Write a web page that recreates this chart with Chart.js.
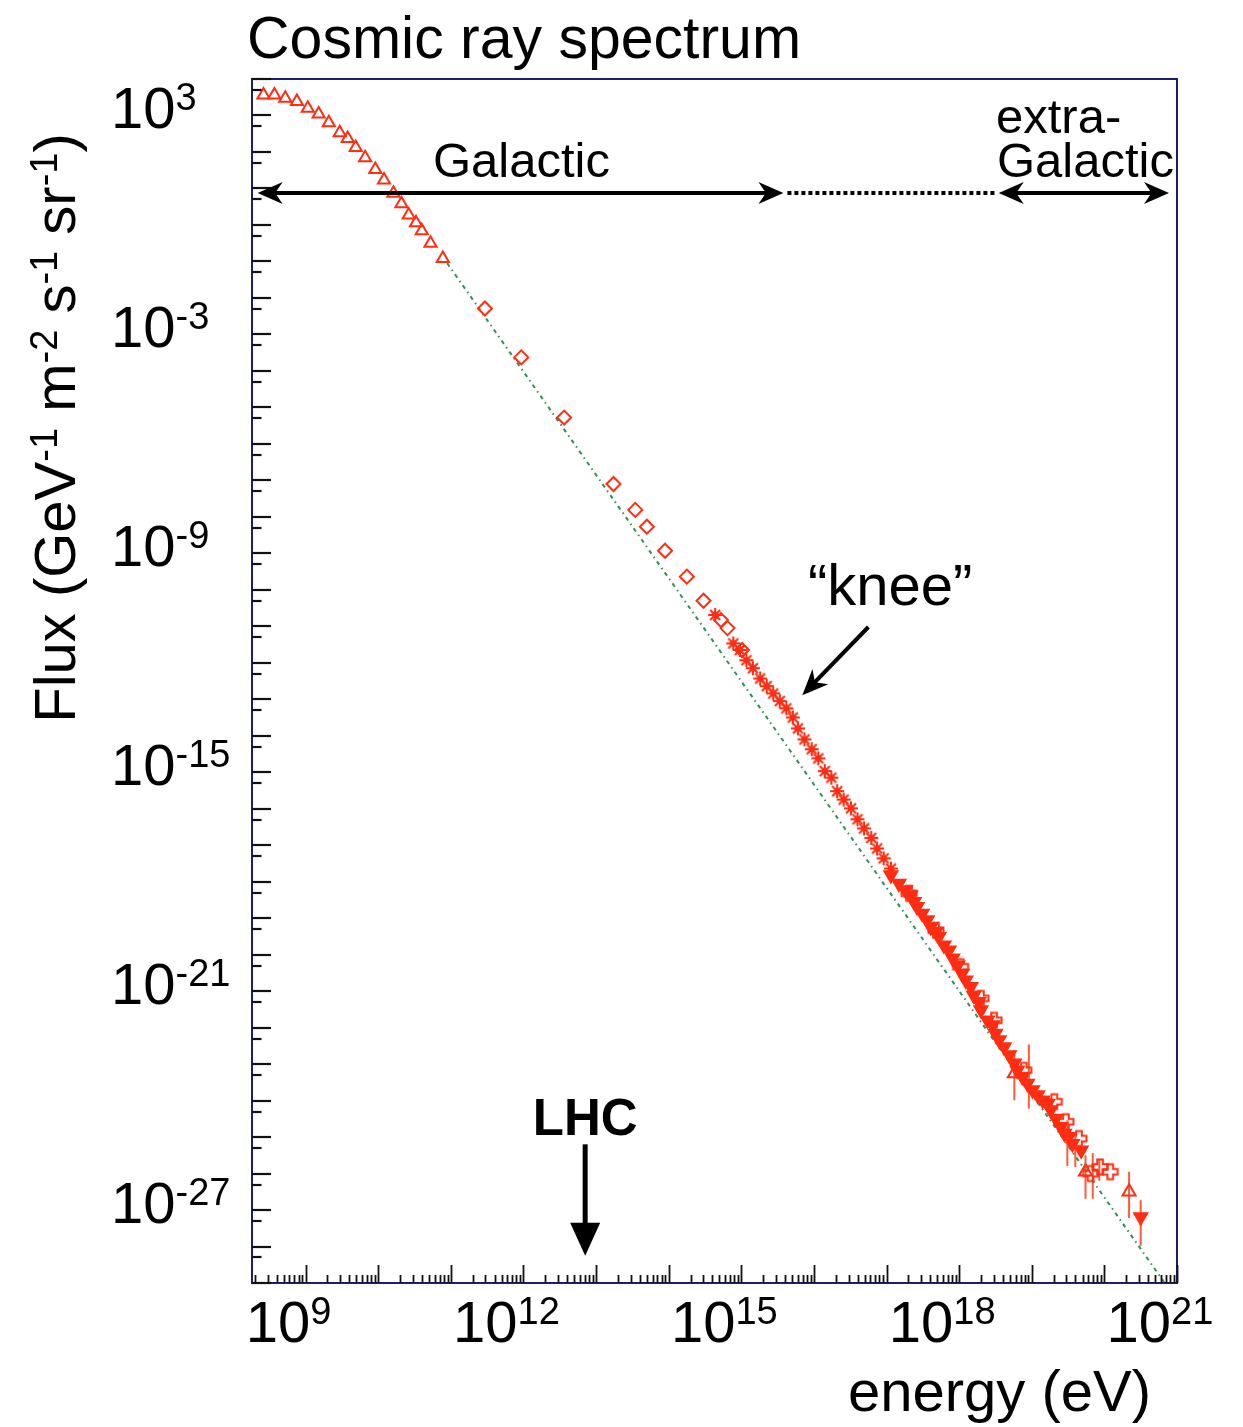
<!DOCTYPE html>
<html>
<head>
<meta charset="utf-8">
<title>Cosmic ray spectrum</title>
<script src="https://cdn.jsdelivr.net/npm/chart.js@4.4.1/dist/chart.umd.min.js"></script>
<style>
  html, body { margin: 0; padding: 0; background: #fff; }
  #wrap { width: 1243px; height: 1427px; position: relative; }
</style>
</head>
<body>
<div id="wrap"><canvas id="spectrum"></canvas></div>
<script>
// every point is [log10(E / eV), log10(flux)]
const directTriangles = [
  [8.42, 3.56], [8.57, 3.56], [8.72, 3.47], [8.88, 3.38], [9.03, 3.2],
  [9.18, 3.04], [9.32, 2.8], [9.47, 2.53], [9.58, 2.37], [9.69, 2.12],
  [9.82, 1.84], [9.96, 1.52], [10.08, 1.23], [10.21, 0.87], [10.32, 0.58],
  [10.42, 0.27], [10.52, 0.06], [10.6, -0.16], [10.72, -0.5], [10.89, -0.92],
];
const balloonDiamonds = [
  [11.47, -2.29], [11.97, -3.63], [12.56, -5.28], [13.24, -7.1], [13.54, -7.81],
  [13.7, -8.27], [13.95, -8.93], [14.25, -9.64], [14.48, -10.3], [14.72, -10.83],
  [14.81, -11.05], [15.01, -11.65],
];
const kneeStars = [
  [14.64, -10.69], [14.89, -11.47], [14.98, -11.65], [15.07, -11.93], [15.16, -12.15],
  [15.26, -12.43], [15.35, -12.64], [15.44, -12.84], [15.53, -13.05], [15.62, -13.25],
  [15.71, -13.5], [15.78, -13.8], [15.87, -14.1], [15.97, -14.37], [16.06, -14.62],
  [16.15, -14.97], [16.24, -15.15], [16.32, -15.52], [16.41, -15.75], [16.51, -15.99],
  [16.6, -16.29], [16.69, -16.54], [16.79, -16.8], [16.87, -17.09], [16.96, -17.36],
  [17.06, -17.64],
];
const airShowerFilled = [
  [17.06, -17.82], [17.17, -18.05], [17.26, -18.23], [17.33, -18.37], [17.38, -18.55],
  [17.42, -18.69], [17.49, -18.87], [17.56, -19.05], [17.61, -19.24], [17.68, -19.37],
  [17.72, -19.51], [17.79, -19.74], [17.86, -19.88], [17.91, -20.1], [17.98, -20.29],
  [18.04, -20.52], [18.09, -20.7], [18.16, -20.88], [18.2, -21.11], [18.27, -21.29],
  [18.3, -21.52], [18.39, -21.8], [18.46, -21.93], [18.5, -22.16], [18.55, -22.34],
  [18.62, -22.53], [18.69, -22.75], [18.76, -22.98], [18.8, -23.17], [18.87, -23.35],
  [18.94, -23.53], [19.01, -23.71], [19.08, -23.85], [19.15, -23.99], [19.22, -24.08],
  [19.26, -24.26], [19.33, -24.49], [19.4, -24.72], [19.45, -24.9], [19.51, -24.99],
  [19.56, -25.18], [19.68, -25.36], [20.5, -27.19],
];
const airShowerCrosses = [
  [17.31, -18.32], [17.68, -19.33], [18.02, -20.33], [18.3, -21.2], [18.48, -21.8],
  [18.89, -23.17], [19.31, -24.03], [19.47, -24.58], [19.65, -25.04], [19.81, -26.0],
  [19.94, -25.82], [20.08, -25.95],
];
const airShowerTriangles = [[18.76, -23.26], [19.74, -25.95], [20.34, -26.5]];
// [log10 E, upper, lower]
const errorBars = [
  [18.76, -22.62, -23.99], [18.96, -22.46, -24.22], [19.49, -24.54, -25.79],
  [19.6, -24.99, -25.82], [19.74, -25.5, -26.69], [19.84, -25.44, -26.69],
  [19.93, -25.6, -26.2], [20.34, -25.95, -27.22], [20.5, -26.73, -27.98],
];
// E^-2.8 guide line
const powerLawGuide = [[10.95, -1.05], [20.83, -29.0]];

const xTickExponents = [9, 12, 15, 18, 21];
const yTickExponents = [3, -3, -9, -15, -21, -27];

const FONT = '"Liberation Sans", Arial, Helvetica, sans-serif';
const RED = '#ff2d12';

const toPoints = (list) => list.map(([e, f]) => ({ x: 10 ** e, y: 10 ** f }));

function markerCanvas(size, draw) {
  const c = document.createElement('canvas');
  c.width = size;
  c.height = size;
  draw(c.getContext('2d'), size / 2);
  return c;
}

// outlined plus
const hollowCross = markerCanvas(20, (g, m) => {
  const w = 2.8, L = 7.5;
  const pts = [[-w, -L], [w, -L], [w, -w], [L, -w], [L, w], [w, w], [w, L], [-w, L], [-w, w], [-L, w], [-L, -w], [-w, -w]];
  g.strokeStyle = RED;
  g.lineWidth = 2;
  g.beginPath();
  pts.forEach(([dx, dy], i) => (i ? g.lineTo(m + dx, m + dy) : g.moveTo(m + dx, m + dy)));
  g.closePath();
  g.stroke();
});

// asterisk with a filled core
const starMark = markerCanvas(18, (g, m) => {
  g.strokeStyle = RED;
  g.fillStyle = RED;
  g.lineWidth = 2;
  for (let i = 0; i < 4; i++) {
    const a = (i * Math.PI) / 4;
    g.beginPath();
    g.moveTo(m - 7 * Math.cos(a), m - 7 * Math.sin(a));
    g.lineTo(m + 7 * Math.cos(a), m + 7 * Math.sin(a));
    g.stroke();
  }
  g.beginPath();
  g.arc(m, m, 3.4, 0, Math.PI * 2);
  g.fill();
});

function arrowHead(ctx, x, y, angle, len, half, notch) {
  ctx.save();
  ctx.translate(x, y);
  ctx.rotate(angle);
  ctx.beginPath();
  ctx.moveTo(0, 0);
  ctx.lineTo(-len, -half);
  ctx.lineTo(-len * notch, 0);
  ctx.lineTo(-len, half);
  ctx.closePath();
  ctx.fill();
  ctx.restore();
}

function powerWidth(ctx, exp) {
  ctx.font = `58px ${FONT}`;
  const baseW = ctx.measureText('10').width;
  ctx.font = `38px ${FONT}`;
  return { baseW, total: baseW + ctx.measureText(String(exp)).width };
}

function drawPower(ctx, left, baseline, exp) {
  const { baseW } = powerWidth(ctx, exp);
  ctx.font = `58px ${FONT}`;
  ctx.fillText('10', left, baseline);
  ctx.font = `38px ${FONT}`;
  ctx.fillText(String(exp), left + baseW, baseline - 18);
}

const errorBarPlugin = {
  id: 'errorBars',
  beforeDatasetsDraw(chart) {
    const { ctx, scales: { x, y } } = chart;
    ctx.save();
    ctx.strokeStyle = '#ff5a3a';
    ctx.lineWidth = 2;
    errorBars.forEach(([e, hi, lo]) => {
      const px = x.getPixelForValue(10 ** e);
      ctx.beginPath();
      ctx.moveTo(px, y.getPixelForValue(10 ** hi));
      ctx.lineTo(px, y.getPixelForValue(10 ** lo));
      ctx.stroke();
    });
    ctx.restore();
  },
};

const framePlugin = {
  id: 'frameAndNotes',
  afterDraw(chart) {
    const { ctx, chartArea: a, scales: { x, y } } = chart;
    ctx.save();

    // plot frame
    ctx.strokeStyle = '#1b1f6e';
    ctx.lineWidth = 2;
    ctx.strokeRect(a.left, a.top, a.right - a.left, a.bottom - a.top);

    // inward ticks: decades long, 2..9 short on x; 5x short on y
    ctx.strokeStyle = '#111';
    ctx.lineWidth = 1.8;
    for (let n = 8; n <= 21; n++) {
      for (let k = 1; k <= 9; k++) {
        const v = k * 10 ** n;
        if (v < x.min * 0.999 || v > x.max * 1.001) continue;
        const px = Math.round(x.getPixelForValue(v)) + 0.5;
        ctx.beginPath();
        ctx.moveTo(px, a.bottom);
        ctx.lineTo(px, a.bottom - (k === 1 ? 18 : 8));
        ctx.stroke();
      }
    }
    ctx.lineWidth = 2.2;
    for (let n = -29; n <= 4; n++) {
      [[10 ** n, 19], [5 * 10 ** (n - 1), 9.5]].forEach(([v, len]) => {
        if (v < y.min * 0.999 || v > y.max * 1.001) return;
        const py = Math.round(y.getPixelForValue(v));
        ctx.beginPath();
        ctx.moveTo(a.left, py);
        ctx.lineTo(a.left + len, py);
        ctx.stroke();
      });
    }

    // tick labels
    ctx.fillStyle = '#000';
    ctx.textAlign = 'left';
    ctx.textBaseline = 'alphabetic';
    xTickExponents.forEach((n) => {
      const px = x.getPixelForValue(10 ** n);
      const { total } = powerWidth(ctx, n);
      drawPower(ctx, px - 17 - total / 2, 1342, n);
    });
    yTickExponents.forEach((n) => {
      drawPower(ctx, 111, y.getPixelForValue(10 ** n) + 13, n);
    });

    // titles
    ctx.font = `59px ${FONT}`;
    ctx.fillText('Cosmic ray spectrum', 247, 58);
    ctx.font = `58px ${FONT}`;
    ctx.fillText('energy (eV)', 848, 1411);

    const parts = [['Flux (GeV', 0], ['-1', 1], [' m', 0], ['-2', 1], [' s', 0], ['-1', 1], [' sr', 0], ['-1', 1], [')', 0]];
    const fontFor = (sup) => (sup ? `38px ${FONT}` : `58px ${FONT}`);
    let len = 0;
    parts.forEach(([t, sup]) => { ctx.font = fontFor(sup); len += ctx.measureText(t).width; });
    ctx.save();
    ctx.translate(75, 428 + len / 2);
    ctx.rotate(-Math.PI / 2);
    let cx = 0;
    parts.forEach(([t, sup]) => {
      ctx.font = fontFor(sup);
      ctx.fillText(t, cx, sup ? -18 : 0);
      cx += ctx.measureText(t).width;
    });
    ctx.restore();

    // Galactic / extra-Galactic ranges
    const rangeY = y.getPixelForValue(10 ** 0.875);
    const gx0 = x.getPixelForValue(10 ** 8.34);
    const gx1 = x.getPixelForValue(10 ** 15.58);
    const ex0 = x.getPixelForValue(10 ** 18.545);
    const ex1 = x.getPixelForValue(10 ** 20.89);
    ctx.strokeStyle = '#000';
    ctx.fillStyle = '#000';
    ctx.lineWidth = 4;
    ctx.beginPath();
    ctx.moveTo(gx0 + 12, rangeY);
    ctx.lineTo(gx1 - 12, rangeY);
    ctx.moveTo(ex0 + 12, rangeY);
    ctx.lineTo(ex1 - 12, rangeY);
    ctx.stroke();
    arrowHead(ctx, gx0, rangeY, Math.PI, 25, 11, 0.7);
    arrowHead(ctx, gx1, rangeY, 0, 25, 11, 0.7);
    arrowHead(ctx, ex0, rangeY, Math.PI, 25, 11, 0.7);
    arrowHead(ctx, ex1, rangeY, 0, 25, 11, 0.7);
    ctx.setLineDash([4, 3]);
    ctx.beginPath();
    ctx.moveTo(gx1 + 4, rangeY);
    ctx.lineTo(ex0 - 2, rangeY);
    ctx.stroke();
    ctx.setLineDash([]);

    ctx.font = `49px ${FONT}`;
    ctx.fillText('Galactic', 433, 177);
    ctx.fillText('extra-', 996, 133);
    ctx.fillText('Galactic', 997, 177);

    // knee
    const kx0 = x.getPixelForValue(10 ** 16.75);
    const ky0 = y.getPixelForValue(10 ** -11.02);
    const kx1 = x.getPixelForValue(10 ** 15.84);
    const ky1 = y.getPixelForValue(10 ** -12.89);
    const kAng = Math.atan2(ky1 - ky0, kx1 - kx0);
    ctx.beginPath();
    ctx.moveTo(kx0, ky0);
    ctx.lineTo(kx1 - 15 * Math.cos(kAng), ky1 - 15 * Math.sin(kAng));
    ctx.stroke();
    arrowHead(ctx, kx1, ky1, kAng, 26, 11, 0.7);
    ctx.font = `58px ${FONT}`;
    ctx.fillText('\u201Cknee\u201D', 808, 605);

    // LHC
    const lx = x.getPixelForValue(10 ** 12.85);
    const lTop = y.getPixelForValue(10 ** -25.2);
    const lTip = y.getPixelForValue(10 ** -28.25);
    ctx.lineWidth = 5;
    ctx.beginPath();
    ctx.moveTo(lx, lTop);
    ctx.lineTo(lx, lTip - 25);
    ctx.stroke();
    arrowHead(ctx, lx, lTip, Math.PI / 2, 33, 15, 1);
    ctx.font = `bold 51px ${FONT}`;
    ctx.textAlign = 'center';
    ctx.fillText('LHC', lx, 1135);

    ctx.restore();
  },
};

const pointSet = (data, extra) => ({
  data: toPoints(data),
  borderColor: RED,
  backgroundColor: 'rgba(0,0,0,0)',
  borderWidth: 2,
  pointHoverRadius: 0,
  ...extra,
});

new Chart(document.getElementById('spectrum'), {
  type: 'scatter',
  data: {
    datasets: [
      pointSet(airShowerTriangles, { pointStyle: 'triangle', pointRadius: 7.5 }),
      pointSet(airShowerCrosses, { pointStyle: hollowCross }),
      pointSet(airShowerFilled, { pointStyle: 'triangle', pointRotation: 180, pointRadius: 7.5, backgroundColor: RED }),
      pointSet(kneeStars, { pointStyle: starMark }),
      pointSet(balloonDiamonds, { pointStyle: 'rectRot', pointRadius: 7 }),
      pointSet(directTriangles, { pointStyle: 'triangle', pointRadius: 7 }),
      {
        data: toPoints(powerLawGuide),
        showLine: true,
        pointRadius: 0,
        borderColor: '#2f8f55',
        borderWidth: 2,
        borderDash: [4, 4, 1.5, 4],
        order: 5,
      },
    ],
  },
  options: {
    responsive: true,
    maintainAspectRatio: false,
    animation: false,
    events: [],
    layout: { padding: { left: 252, right: 66, top: 79, bottom: 144 } },
    plugins: { legend: { display: false }, tooltip: { enabled: false } },
    scales: {
      x: { type: 'logarithmic', display: false, min: 10 ** 8.262, max: 1e21 },
      y: { type: 'logarithmic', display: false, min: 1e-29, max: 1e4 },
    },
  },
  plugins: [errorBarPlugin, framePlugin],
});
</script>
</body>
</html>
